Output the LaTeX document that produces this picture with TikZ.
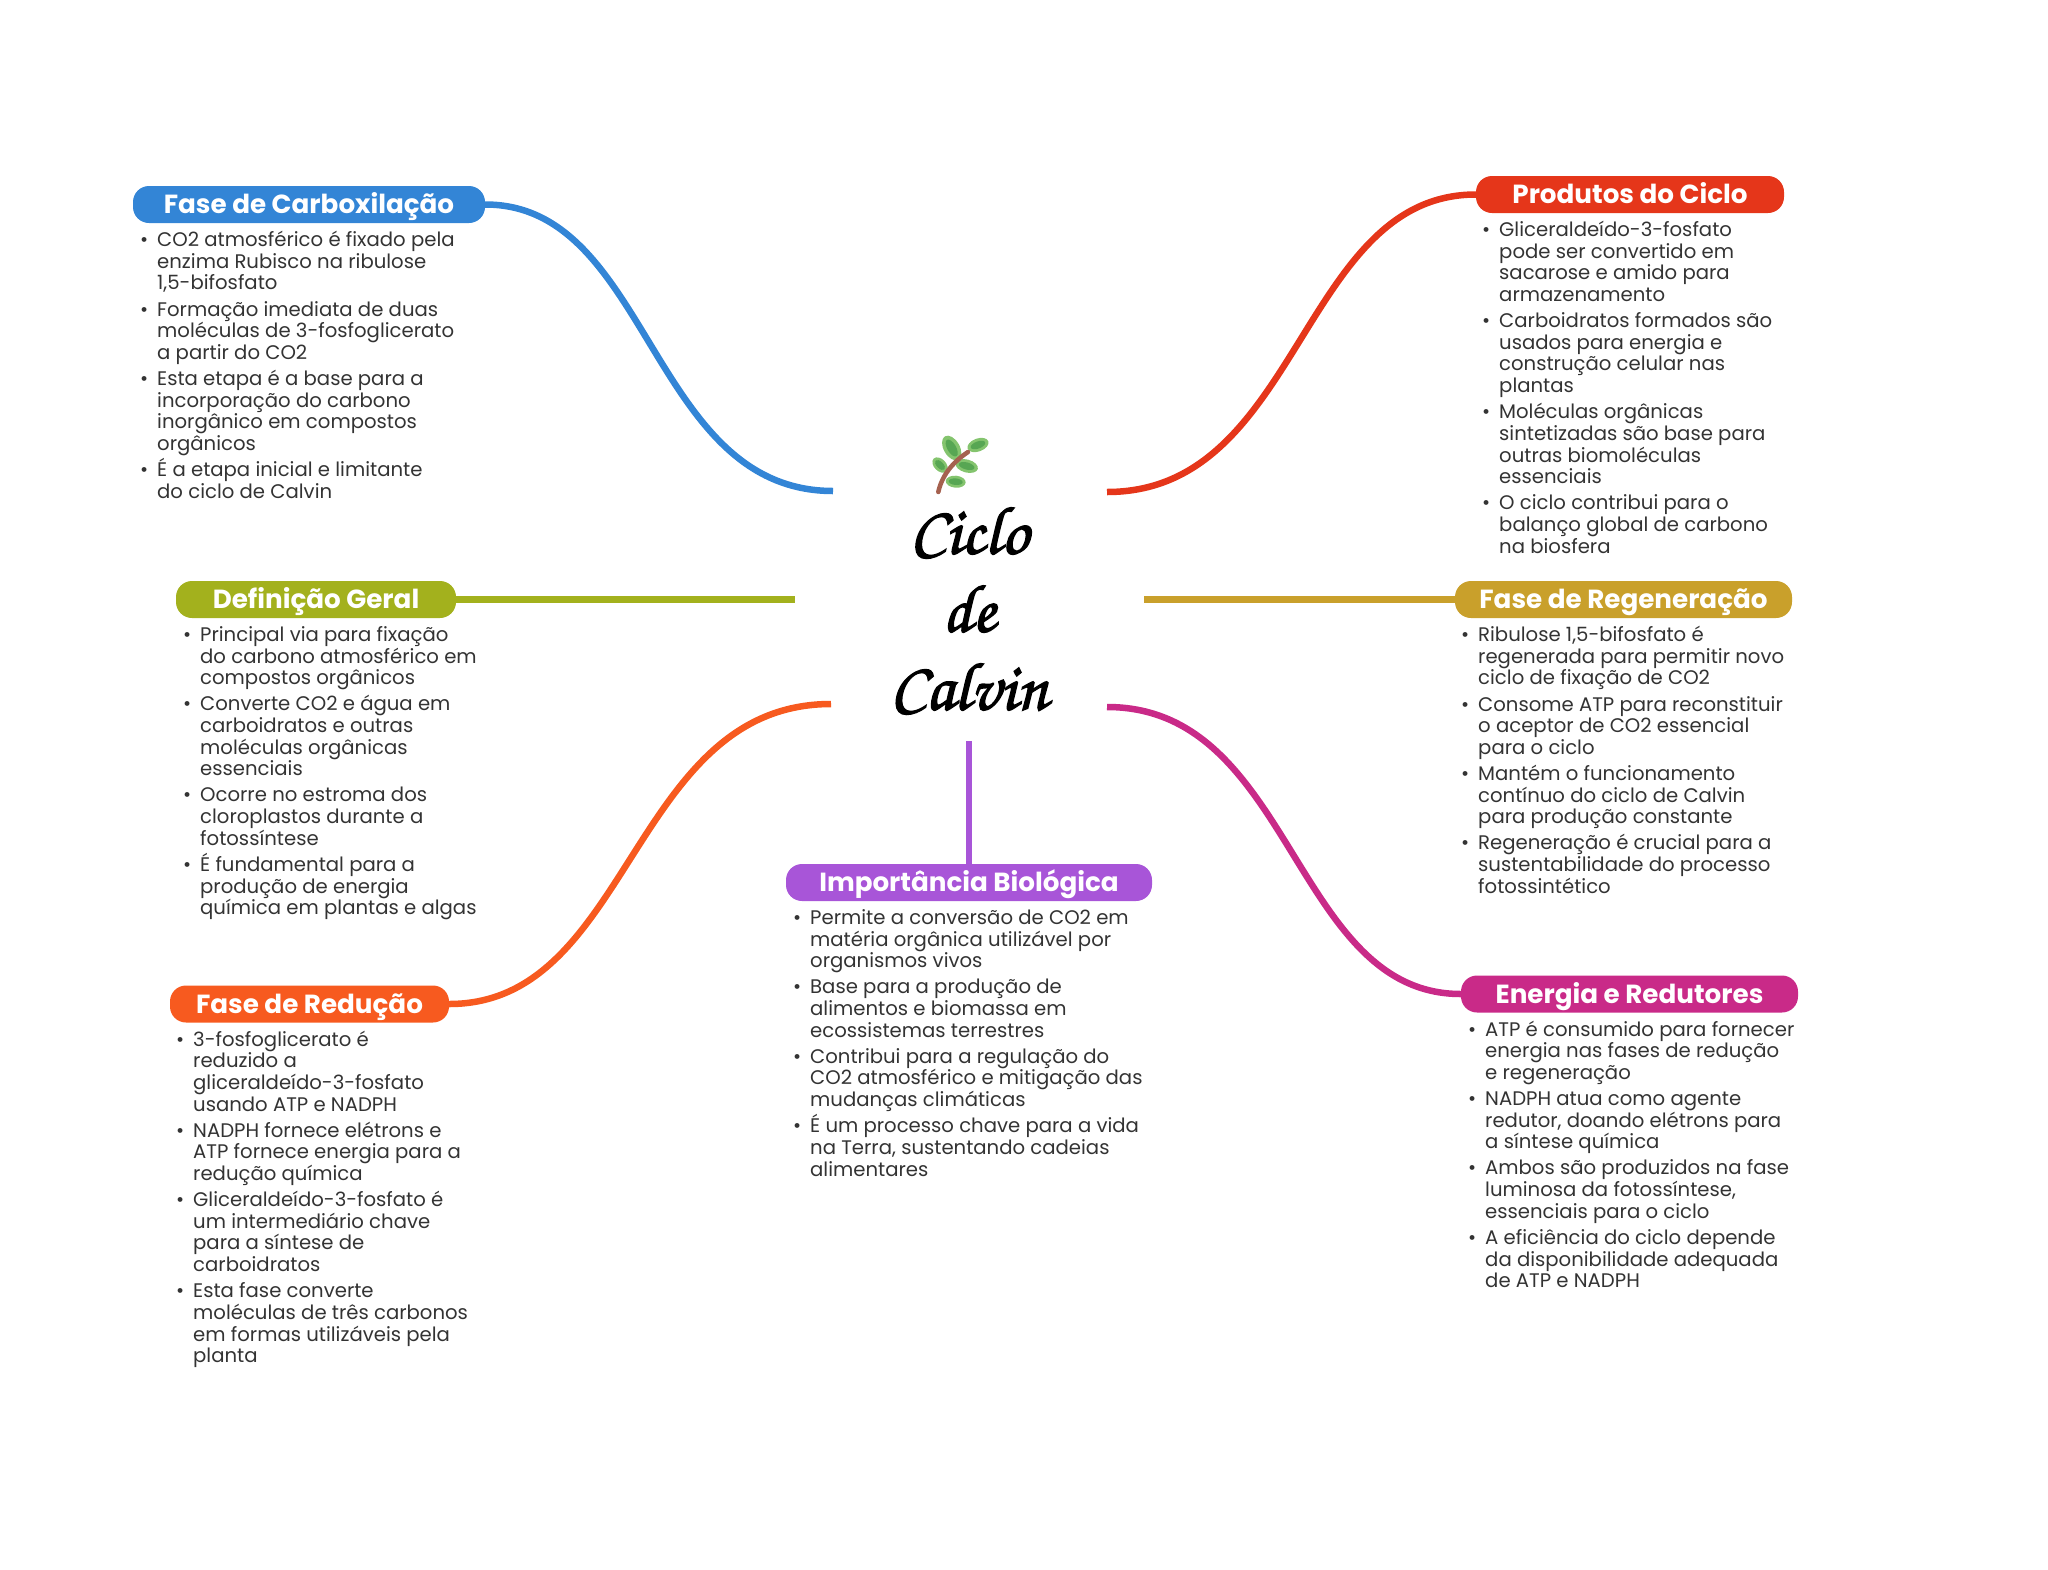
\documentclass[tikz,border=0pt]{standalone}
\usepackage{fontspec}
\setmainfont{Poppins}
\usetikzlibrary{positioning}
\definecolor{carboxblue}{HTML}{3385D6}
\definecolor{produtosred}{HTML}{E5361A}
\definecolor{geralolive}{HTML}{A3B11D}
\definecolor{regengold}{HTML}{C9A02B}
\definecolor{reducaoorange}{HTML}{F75A1F}
\definecolor{biopurple}{HTML}{A855D8}
\definecolor{energiamagenta}{HTML}{C92A88}
\definecolor{bodytext}{HTML}{333333}
\definecolor{leaflight}{HTML}{84C46E}
\definecolor{leafdark}{HTML}{57A653}
\definecolor{twigbrown}{HTML}{A5614F}
\tikzset{
    pill node/.style={
        rectangle,
        rounded corners=16pt,
        minimum height=37pt,
        inner sep=0pt,
        text height=20pt,
        text depth=1.2pt,
        text=white,
        font=\fontsize{26.2}{30}\selectfont\bfseries
    },
    body node/.style={
        anchor=north west,
        align=left,
        inner sep=0pt,
        text=bodytext,
        font={\fontsize{19.66}{21.65}\selectfont\lineskiplimit -100pt}
    },
    branch edge/.style={
        line width=6.5pt
    },
    title node/.style={
        align=center,
        inner sep=0pt,
        font=\fontsize{68}{78}\usefont{OT1}{pzc}{mb}{it}
    }
}
\newcommand{\blt}{\strut\llap{\textbullet\hspace{9pt}}}
\newcommand{\heavyink}[1]{\special{pdf:code 2 Tr 1.3 w}#1\special{pdf:code 0 Tr 1 w}}
\newcommand{\leafshape}[5]{
    \fill[leaflight] [shift={(#1,#2)},rotate=#3] (0,0) ellipse (#4pt and #5pt);
    \fill[leafdark] [shift={(#1,#2)},rotate=#3] (0,0) ellipse (0.7*#4pt and 0.55*#5pt);
}
\begin{document}
\begin{tikzpicture}[x=1pt,y=-1pt]
    \useasboundingbox (0,0) rectangle (2048,1569);
    % Central title
    \node[title node] (title) at (969,608) {\heavyink{Ciclo}\\\heavyink{de}\\\heavyink{Calvin}};

    % Herb sprig
    \leafshape{951.7}{448}{-60}{13.5}{8}
    \leafshape{978}{445}{20}{11}{6.5}
    \leafshape{940}{465}{-45}{9}{6}
    \leafshape{966.7}{466}{-15}{11.5}{6.5}
    \leafshape{955.7}{481.7}{-5}{10}{6}
    \draw[twigbrown, line width=4.5pt, line cap=round] (938.3,492) .. controls (942,475) and (953,462) .. (968,452);

    % Branch heads
    \node[pill node, fill=carboxblue, minimum width=352pt] (carboxilacao) at (309,204.5) {Fase de Carboxilação};
    \node[pill node, fill=produtosred, minimum width=308pt] (produtos) at (1630,194.5) {Produtos do Ciclo};
    \node[pill node, fill=geralolive, minimum width=280pt] (definicao) at (316,599.5) {Definição Geral};
    \node[pill node, fill=regengold, minimum width=337pt] (regeneracao) at (1623.5,599.5) {Fase de Regeneração};
    \node[pill node, fill=reducaoorange, minimum width=279pt] (reducao) at (309.5,1004) {Fase de Redução};
    \node[pill node, fill=biopurple, minimum width=366pt] (importancia) at (969,882.5) {Importância Biológica};
    \node[pill node, fill=energiamagenta, minimum width=337pt] (energia) at (1629.5,994) {Energia e Redutores};

    % Free ends next to the title
    \coordinate (carboxEnd) at (833,491);
    \coordinate (produtosEnd) at (1107,492);
    \coordinate (definicaoEnd) at (795,599.5);
    \coordinate (regeneracaoEnd) at (1144,599.5);
    \coordinate (reducaoEnd) at (831,704);
    \coordinate (importanciaEnd) at (969,741);
    \coordinate (energiaEnd) at (1107,707);

    % Connectors
    \draw[branch edge, carboxblue] (carboxilacao.east) .. controls +(165,0) and +(-183,0) .. (carboxEnd);
    \draw[branch edge, produtosred] (produtos.west) .. controls +(-175.5,0) and +(193.5,0) .. (produtosEnd);
    \draw[branch edge, geralolive] (definicao.east) -- (definicaoEnd);
    \draw[branch edge, regengold] (regeneracao.west) -- (regeneracaoEnd);
    \draw[branch edge, reducaoorange] (reducao.east) .. controls +(182,0) and +(-200,0) .. (reducaoEnd);
    \draw[branch edge, biopurple] (importancia.north) -- (importanciaEnd);
    \draw[branch edge, energiamagenta] (energia.west) .. controls +(-168,0) and +(186,0) .. (energiaEnd);

    % Body texts
    \node[body node] (carboxilacaoText) at (157,231) {\blt CO2 atmosférico é fixado pela\\enzima Rubisco na ribulose\\1,5-bifosfato\\[4.5pt]
        \blt Formação imediata de duas\\moléculas de 3-fosfoglicerato\\a partir do CO2\\[4.5pt]
        \blt Esta etapa é a base para a\\incorporação do carbono\\inorgânico em compostos\\orgânicos\\[4.5pt]
        \blt É a etapa inicial e limitante\\do ciclo de Calvin};
    \node[body node] (produtosText) at (1499,221) {\blt Gliceraldeído-3-fosfato\\pode ser convertido em\\sacarose e amido para\\armazenamento\\[4.5pt]
        \blt Carboidratos formados são\\usados para energia e\\construção celular nas\\plantas\\[4.5pt]
        \blt Moléculas orgânicas\\sintetizadas são base para\\outras biomoléculas\\essenciais\\[4.5pt]
        \blt O ciclo contribui para o\\balanço global de carbono\\na biosfera};
    \node[body node] (definicaoText) at (200,626) {\blt Principal via para fixação\\do carbono atmosférico em\\compostos orgânicos\\[4.5pt]
        \blt Converte CO2 e água em\\carboidratos e outras\\moléculas orgânicas\\essenciais\\[4.5pt]
        \blt Ocorre no estroma dos\\cloroplastos durante a\\fotossíntese\\[4.5pt]
        \blt É fundamental para a\\produção de energia\\química em plantas e algas};
    \node[body node] (regeneracaoText) at (1478,626) {\blt Ribulose 1,5-bifosfato é\\regenerada para permitir novo\\ciclo de fixação de CO2\\[4.5pt]
        \blt Consome ATP para reconstituir\\o aceptor de CO2 essencial\\para o ciclo\\[4.5pt]
        \blt Mantém o funcionamento\\contínuo do ciclo de Calvin\\para produção constante\\[4.5pt]
        \blt Regeneração é crucial para a\\sustentabilidade do processo\\fotossintético};
    \node[body node] (reducaoText) at (193,1030.5) {\blt 3-fosfoglicerato é\\reduzido a\\gliceraldeído-3-fosfato\\usando ATP e NADPH\\[4.5pt]
        \blt NADPH fornece elétrons e\\ATP fornece energia para a\\redução química\\[4.5pt]
        \blt Gliceraldeído-3-fosfato é\\um intermediário chave\\para a síntese de\\carboidratos\\[4.5pt]
        \blt Esta fase converte\\moléculas de três carbonos\\em formas utilizáveis pela\\planta};
    \node[body node] (importanciaText) at (810,909) {\blt Permite a conversão de CO2 em\\matéria orgânica utilizável por\\organismos vivos\\[4.5pt]
        \blt Base para a produção de\\alimentos e biomassa em\\ecossistemas terrestres\\[4.5pt]
        \blt Contribui para a regulação do\\CO2 atmosférico e mitigação das\\mudanças climáticas\\[4.5pt]
        \blt É um processo chave para a vida\\na Terra, sustentando cadeias\\alimentares};
    \node[body node] (energiaText) at (1485,1020.5) {\blt ATP é consumido para fornecer\\energia nas fases de redução\\e regeneração\\[4.5pt]
        \blt NADPH atua como agente\\redutor, doando elétrons para\\a síntese química\\[4.5pt]
        \blt Ambos são produzidos na fase\\luminosa da fotossíntese,\\essenciais para o ciclo\\[4.5pt]
        \blt A eficiência do ciclo depende\\da disponibilidade adequada\\de ATP e NADPH};
\end{tikzpicture}
\end{document}
